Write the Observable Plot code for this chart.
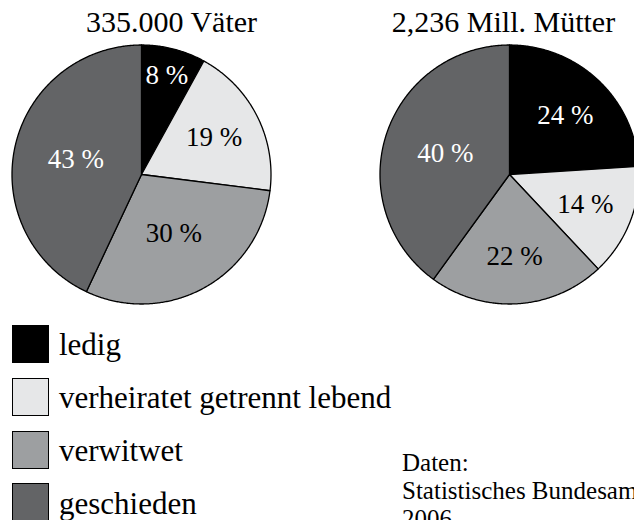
<!DOCTYPE html>
<html>
<head>
<meta charset="utf-8">
<script src="https://cdn.jsdelivr.net/npm/d3@7"></script>
<script src="https://cdn.jsdelivr.net/npm/@observablehq/plot@0.6"></script>
<style>
  html, body { margin: 0; padding: 0; background: #fff; }
  body { width: 634px; height: 520px; overflow: hidden; position: relative; font-family: "Liberation Serif", serif; color: #000; }
  #chart { position: absolute; left: 0; top: 0; }
  .title { position: absolute; width: 320px; text-align: center; font-size: 30px; line-height: 30px; white-space: nowrap; }
  .sw { position: absolute; left: 12px; width: 35px; height: 36px; border: 1px solid #000; }
  .lt { position: absolute; left: 59px; font-size: 31px; line-height: 31px; white-space: nowrap; }
  #cap { position: absolute; left: 402px; font-size: 25px; line-height: 28px; white-space: nowrap; }
</style>
</head>
<body>
<div id="chart"></div>
<script>
// ---- data ----
const categories = ["ledig", "verheiratet getrennt lebend", "verwitwet", "geschieden"];
const colors = ["#000000", "#e6e7e8", "#9d9fa1", "#636466"];
const labelColors = ["#ffffff", "#000000", "#000000", "#ffffff"];
const groups = ["335.000 Väter", "2,236 Mill. Mütter"];
const vaeter = [8, 19, 30, 43];
const muetter = [24, 14, 22, 40];
const captionLines = ["Daten:", "Statistisches Bundesamt", "2006"];

// ---- layout (pixels) ----
const W = 634, H = 310, R = 129.5;
const centersPx = [[141, 174], [509, 174]];
const series = [vaeter, muetter];

// data units: radius = 1, origin at left pie centre
const xDomain = [-centersPx[0][0] / R, (W - centersPx[0][0]) / R];
const yDomain = [-(H - centersPx[0][1]) / R, centersPx[0][1] / R];
const centers = centersPx.map(([px, py]) => [(px - centersPx[0][0]) / R, (centersPx[0][1] - py) / R]);

const pie = d3.pie().sort(null).value(d => d);
const slicePts = [];
const labels = [];
series.forEach((vals, gi) => {
  const [cx, cy] = centers[gi];
  const total = d3.sum(vals);
  pie(vals).forEach((a, i) => {
    const id = gi + "-" + i;
    const cat = categories[i];
    slicePts.push({id, cat, x: cx, y: cy});
    const n = Math.max(2, Math.ceil((a.endAngle - a.startAngle) / (Math.PI / 360)));
    for (let k = 0; k <= n; k++) {
      const t = a.startAngle + (a.endAngle - a.startAngle) * k / n;
      slicePts.push({id, cat, x: cx + Math.sin(t), y: cy + Math.cos(t)});
    }
    slicePts.push({id, cat, x: cx, y: cy});
    const p = vals[i] / total;
    const mid = (a.startAngle + a.endAngle) / 2;
    const r = p < 0.1 ? 0.79 : p < 0.25 ? 0.63 : 0.52;
    labels.push({x: cx + r * Math.sin(mid), y: cy + r * Math.cos(mid), text: vals[i] + " %", color: labelColors[i]});
  });
});

const plot = Plot.plot({
  width: W, height: H,
  margin: 0,
  x: {domain: xDomain, axis: null},
  y: {domain: yDomain, axis: null},
  color: {type: "ordinal", domain: categories, range: colors},
  style: {background: "transparent", overflow: "visible"},
  marks: [
    Plot.line(slicePts, {x: "x", y: "y", z: "id", fill: "cat", stroke: "#000", strokeWidth: 1.3, strokeLinejoin: "round", curve: "linear"}),
    Plot.text(labels, {x: "x", y: "y", text: "text", fill: d => d.color, fontSize: 27, fontFamily: "Liberation Serif"})
  ]
});
document.getElementById("chart").appendChild(plot);

// titles
const titleCentres = [171.5, 503.5];
groups.forEach((g, i) => {
  const d = document.createElement("div");
  d.className = "title";
  d.textContent = g;
  d.style.left = (titleCentres[i] - 160) + "px";
  d.style.top = "6.9px";
  document.body.appendChild(d);
});

// legend
categories.forEach((c, i) => {
  const top = 325 + i * 52.8;
  const s = document.createElement("div");
  s.className = "sw";
  s.style.top = top + "px";
  s.style.background = colors[i];
  document.body.appendChild(s);
  const t = document.createElement("div");
  t.className = "lt";
  t.textContent = c;
  t.style.top = (top + 4.1) + "px";
  document.body.appendChild(t);
});

// caption
const cap = document.createElement("div");
cap.id = "cap";
cap.style.top = "449.3px";
cap.innerHTML = captionLines.join("<br>");
document.body.appendChild(cap);
</script>
</body>
</html>
